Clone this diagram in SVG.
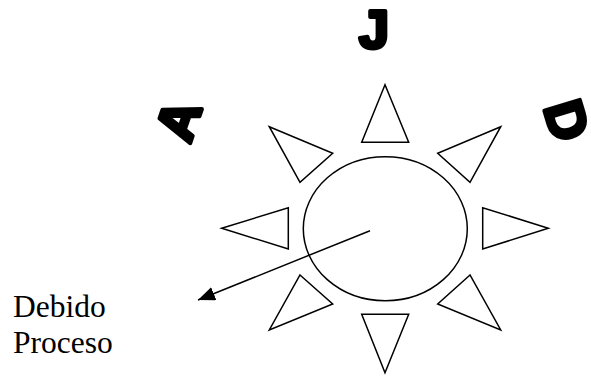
<svg xmlns="http://www.w3.org/2000/svg" width="591" height="376" viewBox="0 0 591 376">
<defs>
<style>
.shape{fill:#fff;stroke:#000;stroke-width:1.5;stroke-linejoin:miter}
.big{font-family:"Liberation Sans",Arial,sans-serif;font-weight:bold;font-size:54px;fill:#000;stroke:#000;stroke-width:4;stroke-linejoin:round;text-anchor:middle}
.lbl{font-family:"Liberation Serif","Times New Roman",serif;font-size:31.5px;fill:#000}
</style>
<marker id="ah" viewBox="0 0 17 14" refX="17" refY="7" markerWidth="17" markerHeight="14" markerUnits="userSpaceOnUse" orient="auto">
<path d="M0,0 L17,7 L0,14 z" fill="#000"/>
</marker>
</defs>
<rect width="591" height="376" fill="#fff"/>
<g id="letter-J"><text class="big" x="374" y="48">J</text></g>
<g id="letter-A"><text class="big" transform="translate(196,126) rotate(-71)">A</text></g>
<g id="letter-D"><text class="big" transform="translate(549,126) rotate(73)">D</text></g>
<g id="sun">
<ellipse class="shape" cx="385.3" cy="228.7" rx="82" ry="72"/>
<polygon class="shape" points="385,84.7 361.7,142.3 408.7,142.3"/>
<polygon class="shape" points="361.7,314.3 408.7,314.3 385,372.7"/>
<polygon class="shape" points="221.7,228.3 288.3,207.7 288.3,249"/>
<polygon class="shape" points="482.7,207.7 482.7,249 548.3,228.3"/>
<polygon class="shape" points="269.3,126.7 332.7,153.3 300,182.3"/>
<polygon class="shape" points="500.7,126.7 437.7,153.3 470,182.3"/>
<polygon class="shape" points="300,275 332.7,304 269.3,330"/>
<polygon class="shape" points="470,275 437.7,304 500.7,330"/>
</g>
<g id="connectors">
<line x1="370" y1="230.7" x2="198" y2="300" stroke="#000" stroke-width="1.5" marker-end="url(#ah)"/>
</g>
<g id="label">
<text class="lbl" x="13" y="317">Debido</text>
<text class="lbl" x="13" y="353">Proceso</text>
</g>
</svg>
